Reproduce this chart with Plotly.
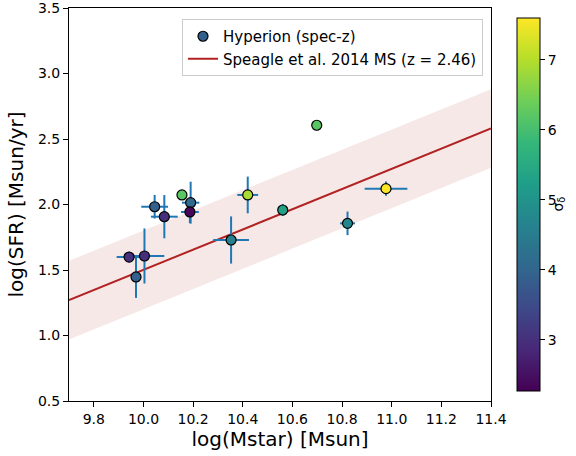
import plotly.graph_objects as go

# Hyperion (spec-z) galaxies
mstar = [9.942, 10.004, 9.970, 10.045, 10.084, 10.155, 10.190, 10.187, 10.353, 10.420, 10.698, 10.561, 10.822, 10.977]
sfr = [1.599, 1.607, 1.447, 1.983, 1.907, 2.073, 2.014, 1.943, 1.729, 2.073, 2.605, 1.958, 1.856, 2.121]
mstar_err = [0.050, 0.080, 0.020, 0.054, 0.054, 0.0, 0.035, 0.036, 0.072, 0.042, 0.0, 0.012, 0.030, 0.086]
sfr_err = [0.040, 0.210, 0.160, 0.090, 0.165, 0.0, 0.160, 0.085, 0.180, 0.140, 0.0, 0.046, 0.090, 0.055]
sigma_delta = [3.0, 3.0, 3.9, 3.9, 3.0, 6.2, 4.1, 2.35, 4.6, 6.9, 6.2, 5.3, 4.7, 7.6]

# Speagle et al. 2014 main sequence (z = 2.46)
ms_x = [9.7, 11.4]
ms_y = [1.27, 2.58]
band_lo = [0.97, 2.28]
band_hi = [1.57, 2.88]

cmin, cmax = 2.27, 7.6
FONT = "DejaVu Sans"
PW = 422  # plot width in px (69 .. 491)

fig = go.Figure()

# scatter band
fig.add_trace(go.Scatter(x=ms_x, y=band_lo, mode="lines", line=dict(width=0),
                         showlegend=False, hoverinfo="skip"))
fig.add_trace(go.Scatter(x=ms_x, y=band_hi, mode="lines", line=dict(width=0),
                         fill="tonexty", fillcolor="rgba(178,34,34,0.1)",
                         showlegend=False, hoverinfo="skip"))
# MS line
fig.add_trace(go.Scatter(x=ms_x, y=ms_y, mode="lines",
                         line=dict(color="#b22222", width=2),
                         name="Speagle et al. 2014 MS (z = 2.46)", showlegend=False))

# data points
fig.add_trace(go.Scatter(
    x=mstar, y=sfr, mode="markers", showlegend=False,
    error_x=dict(type="data", array=mstar_err, color="#1f77b4", thickness=2, width=0),
    error_y=dict(type="data", array=sfr_err, color="#1f77b4", thickness=2, width=0),
    marker=dict(size=10, color=sigma_delta, colorscale="Viridis", cmin=cmin, cmax=cmax,
                line=dict(color="black", width=1.2),
                colorbar=dict(x=(517 - 10 - 69) / PW, xanchor="left", xref="paper",
                              y=0.5, yanchor="middle", len=1, lenmode="fraction",
                              thickness=23, outlinecolor="black", outlinewidth=1,
                              ticks="outside", ticklen=5, tickcolor="black",
                              tickvals=[3, 4, 5, 6, 7],
                              tickfont=dict(family=FONT, size=14, color="black"))),
))

# legend proxies
fig.add_trace(go.Scatter(x=[None], y=[None], mode="markers", name="Hyperion (spec-z)",
                         marker=dict(size=10, color="#31608d", line=dict(color="black", width=1.2))))
fig.add_trace(go.Scatter(x=[None], y=[None], mode="lines", name="Speagle et al. 2014 MS (z = 2.46)",
                         line=dict(color="#b22222", width=2)))

axis_common = dict(showline=True, linecolor="black", linewidth=1, mirror=True,
                   ticks="outside", ticklen=5, tickwidth=1, tickcolor="black",
                   showgrid=False, zeroline=False, ticklabeloverflow="allow",
                   tickfont=dict(family=FONT, size=14, color="black"))

fig.update_xaxes(range=[9.7, 11.4], tickvals=[9.8, 10.0, 10.2, 10.4, 10.6, 10.8, 11.0, 11.2, 11.4],
                 ticktext=["9.8", "10.0", "10.2", "10.4", "10.6", "10.8", "11.0", "11.2", "11.4"],
                 title=dict(text="log(Mstar) [Msun]", font=dict(family=FONT, size=20, color="black"), standoff=6),
                 **axis_common)
fig.update_yaxes(range=[0.5, 3.5], tickvals=[0.5, 1.0, 1.5, 2.0, 2.5, 3.0, 3.5],
                 ticktext=["0.5", "1.0", "1.5", "2.0", "2.5", "3.0", "3.5"],
                 title=dict(text="log(SFR) [Msun/yr]", font=dict(family=FONT, size=20, color="black"), standoff=8),
                 **axis_common)

fig.add_annotation(text="σ<sub>δ</sub>", x=(558 - 69) / PW, y=0.5, xref="paper", yref="paper",
                   xanchor="center", yanchor="middle",
                   textangle=-90, showarrow=False, font=dict(family=FONT, size=14, color="black"))

fig.update_layout(
    width=576, height=456,
    margin=dict(l=69, r=85, t=8, b=55, autoexpand=False),
    paper_bgcolor="white", plot_bgcolor="white",
    font=dict(family=FONT, color="black"),
    legend=dict(x=(182 - 69) / PW, y=(401 - 19) / 393, xanchor="left", yanchor="top",
                traceorder="normal", tracegroupgap=0,
                bgcolor="rgba(255,255,255,0.8)", bordercolor="#cccccc", borderwidth=1,
                font=dict(family=FONT, size=15, color="black")),
)

fig.write_html("out.html")
